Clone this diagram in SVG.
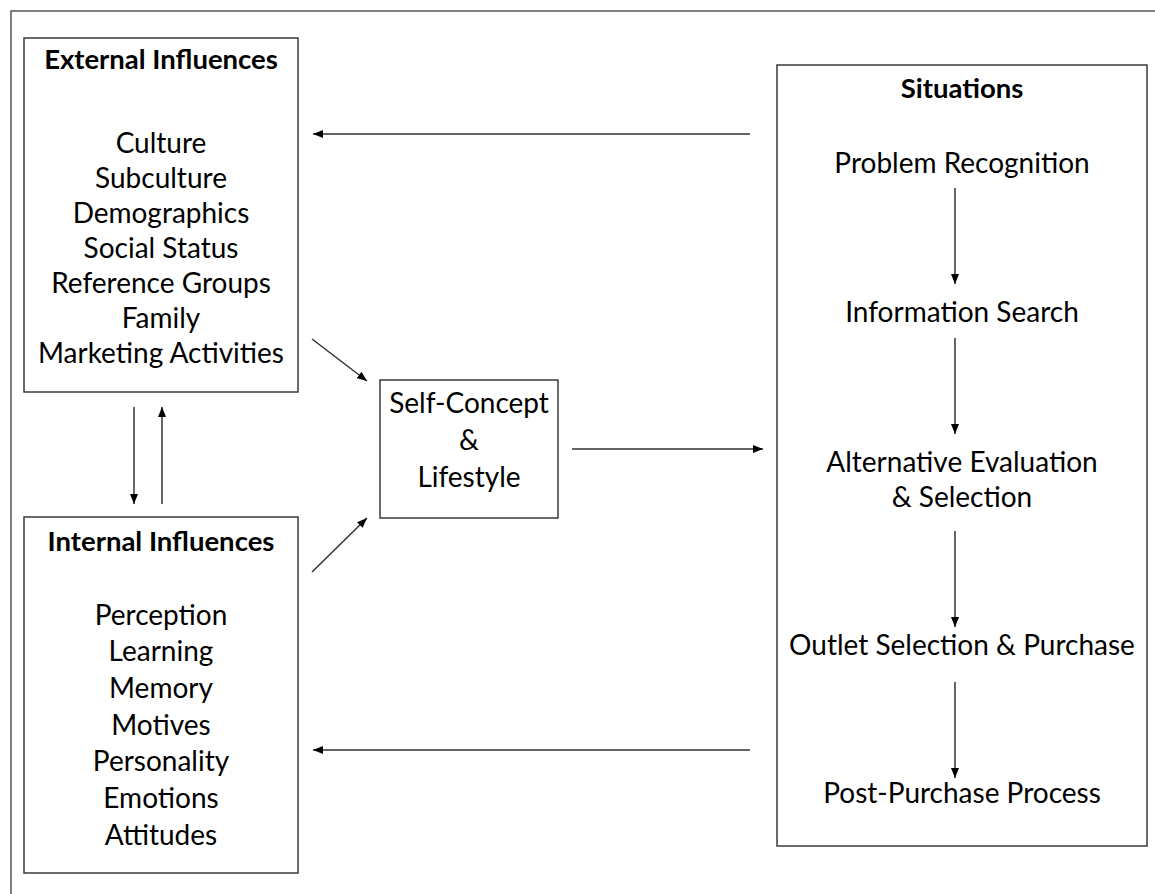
<svg xmlns="http://www.w3.org/2000/svg" width="1155" height="894" viewBox="0 0 1155 894">
<style>
.box{fill:#fff;stroke:#3a3a3a;stroke-width:1.5}
.t{font-family:Lato,"Open Sans","Liberation Sans",sans-serif;font-size:28px;fill:#000;text-anchor:middle}
.b{font-weight:bold;font-size:27.5px}
.c{stroke:#333;stroke-width:1.5;fill:none;marker-end:url(#ah)}
</style>
<defs>
<marker id="ah" viewBox="0 0 10 8" refX="10" refY="4" markerWidth="10" markerHeight="8" markerUnits="userSpaceOnUse" orient="auto">
<path d="M0,0 L10,4 L0,8 Z" fill="#000"/>
</marker>
</defs>
<rect width="1155" height="894" fill="#fff"/>
<path d="M11,894 V11 H1155" fill="none" stroke="#555" stroke-width="1.5"/>
<g id="external">
<rect class="box" x="24" y="38" width="274" height="354"/>
<text class="t b" x="161" y="69">External Influences</text>
<text class="t" x="161" y="153">Culture</text>
<text class="t" x="161" y="188">Subculture</text>
<text class="t" x="161" y="223">Demographics</text>
<text class="t" x="161" y="258">Social Status</text>
<text class="t" x="161" y="293">Reference Groups</text>
<text class="t" x="161" y="328">Family</text>
<text class="t" x="161" y="363">Marketing Activities</text>
</g>
<g id="internal">
<rect class="box" x="24" y="517" width="274" height="356"/>
<text class="t b" x="161" y="551">Internal Influences</text>
<text class="t" x="161" y="625">Perception</text>
<text class="t" x="161" y="661">Learning</text>
<text class="t" x="161" y="698">Memory</text>
<text class="t" x="161" y="735">Motives</text>
<text class="t" x="161" y="771">Personality</text>
<text class="t" x="161" y="808">Emotions</text>
<text class="t" x="161" y="845">Attitudes</text>
</g>
<g id="selfconcept">
<rect class="box" x="380" y="380" width="178" height="138"/>
<text class="t" x="469" y="413">Self-Concept</text>
<text class="t" x="469" y="450">&amp;</text>
<text class="t" x="469" y="487">Lifestyle</text>
</g>
<g id="situations">
<rect class="box" x="777" y="65" width="370" height="781"/>
<text class="t b" x="962" y="98">Situations</text>
<text class="t" x="962" y="173">Problem Recognition</text>
<text class="t" x="962" y="322">Information Search</text>
<text class="t" x="962" y="472">Alternative Evaluation</text>
<text class="t" x="962" y="507">&amp; Selection</text>
<text class="t" x="962" y="655">Outlet Selection &amp; Purchase</text>
<text class="t" x="962" y="803">Post-Purchase Process</text>
</g>
<g id="connectors">
<line class="c" x1="750" y1="134" x2="313" y2="134"/>
<line class="c" x1="750" y1="750" x2="313" y2="750"/>
<line class="c" x1="134" y1="407" x2="134" y2="504"/>
<line class="c" x1="162" y1="504" x2="162" y2="407"/>
<line class="c" x1="312" y1="339" x2="367" y2="381"/>
<line class="c" x1="312" y1="572" x2="367" y2="518"/>
<line class="c" x1="572" y1="449" x2="763" y2="449"/>
<line class="c" x1="955" y1="188" x2="955" y2="284"/>
<line class="c" x1="955" y1="338" x2="955" y2="434"/>
<line class="c" x1="955" y1="531" x2="955" y2="627"/>
<line class="c" x1="955" y1="682" x2="955" y2="778"/>
</g>
</svg>
